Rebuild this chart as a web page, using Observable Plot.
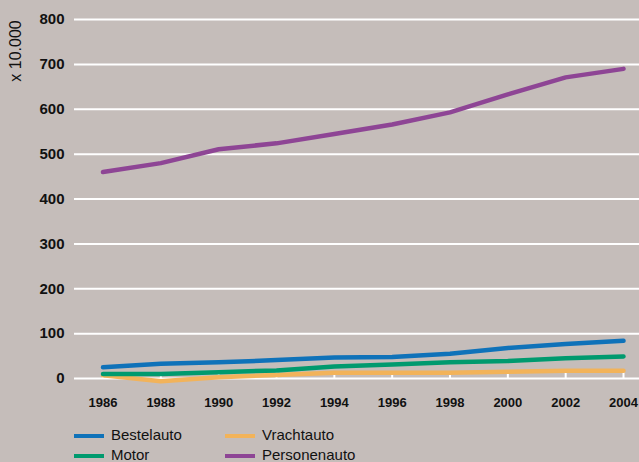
<!DOCTYPE html>
<html>
<head>
<meta charset="utf-8">
<script src="https://cdn.jsdelivr.net/npm/d3@7"></script>
<script src="https://cdn.jsdelivr.net/npm/@observablehq/plot@0.6"></script>
<style>
  html, body { margin: 0; padding: 0; background: #c5bdba; width: 639px; height: 462px; overflow: hidden; }
  body { font-family: "Liberation Sans", Arial, sans-serif; position: relative; }
  #legend { position: absolute; left: 0; top: 418px; width: 639px; height: 44px; }
  .item { position: absolute; font-size: 15px; color: #111; line-height: 15px; white-space: nowrap; }
  .sw { position: absolute; width: 30px; height: 4px; }
</style>
</head>
<body>
<div id="chart"></div>
<div id="legend"></div>
<script>
const years = [1986, 1988, 1990, 1992, 1994, 1996, 1998, 2000, 2002, 2004];
const bestelauto   = [25, 33, 36, 41, 47, 48, 55, 68, 77, 84];
const motor        = [10, 10, 14, 18, 27, 31, 36, 39, 45, 49];
const vrachtauto   = [7, -6, 3, 8, 13, 13, 13, 15, 17, 17];
const personenauto = [460, 480, 511, 524, 545, 566, 593, 633, 671, 690];
const yTicks = [0, 100, 200, 300, 400, 500, 600, 700, 800];
const seriesNames = ["Bestelauto", "Motor", "Vrachtauto", "Personenauto"];
const seriesColors = ["#0f72b9", "#009a6e", "#f2b35a", "#8e4595"];
const yUnitLabel = "x 10.000";

const seriesValues = [bestelauto, motor, vrachtauto, personenauto];
const drawOrder = ["Vrachtauto", "Motor", "Bestelauto", "Personenauto"];
const rows = [];
for (const name of drawOrder) {
  const vals = seriesValues[seriesNames.indexOf(name)];
  years.forEach((y, i) => rows.push({series: name, year: y, value: vals[i]}));
}

const plot = Plot.plot({
  width: 639,
  height: 418,
  marginTop: 19,
  marginBottom: 40,
  marginLeft: 74,
  marginRight: 0,
  style: {background: "#c5bdba", fontFamily: "'Liberation Sans', Arial, sans-serif", color: "#111", overflow: "visible"},
  x: {domain: [1985.014, 2004.553]},
  y: {domain: [0, 800]},
  color: {domain: seriesNames, range: seriesColors},
  marks: [
    Plot.gridY(yTicks, {stroke: "white", strokeOpacity: 1, strokeWidth: 2}),
    Plot.ruleX(years, {x: d => d, y1: 0, y2: 13, stroke: "white", strokeWidth: 2}),
    Plot.axisY(yTicks, {tickSize: 0, tickPadding: 10, fontSize: 15, fontWeight: "bold", label: null, tickFormat: d => String(d)}),
    Plot.axisX(years, {tickSize: 0, tickPadding: 19, fontSize: 13, fontWeight: "bold", label: null, tickFormat: d => String(d)}),
    Plot.line(rows, {x: "year", y: "value", z: "series", stroke: "series", strokeWidth: 4.5, strokeLinecap: "round", strokeLinejoin: "round"}),
    Plot.text([yUnitLabel], {frameAnchor: "top-left", text: d => d, rotate: -90, dx: -59, dy: 31.5, textAnchor: "middle", lineAnchor: "middle", fontSize: 16, fill: "#111"})
  ]
});
document.getElementById("chart").appendChild(plot);

const legend = document.getElementById("legend");
const pos = [
  {sx: 74, tx: 111, cy: 17.5},
  {sx: 74, tx: 111, cy: 37.5},
  {sx: 225, tx: 262, cy: 17.5},
  {sx: 225, tx: 262, cy: 37.5}
];
seriesNames.forEach((name, i) => {
  const p = pos[i];
  const sw = document.createElement("div");
  sw.className = "sw";
  sw.style.left = p.sx + "px";
  sw.style.top = (p.cy - 2) + "px";
  sw.style.background = seriesColors[i];
  legend.appendChild(sw);
  const t = document.createElement("div");
  t.className = "item";
  t.textContent = name;
  t.style.left = p.tx + "px";
  t.style.top = (p.cy - 9) + "px";
  legend.appendChild(t);
});
</script>
</body>
</html>
